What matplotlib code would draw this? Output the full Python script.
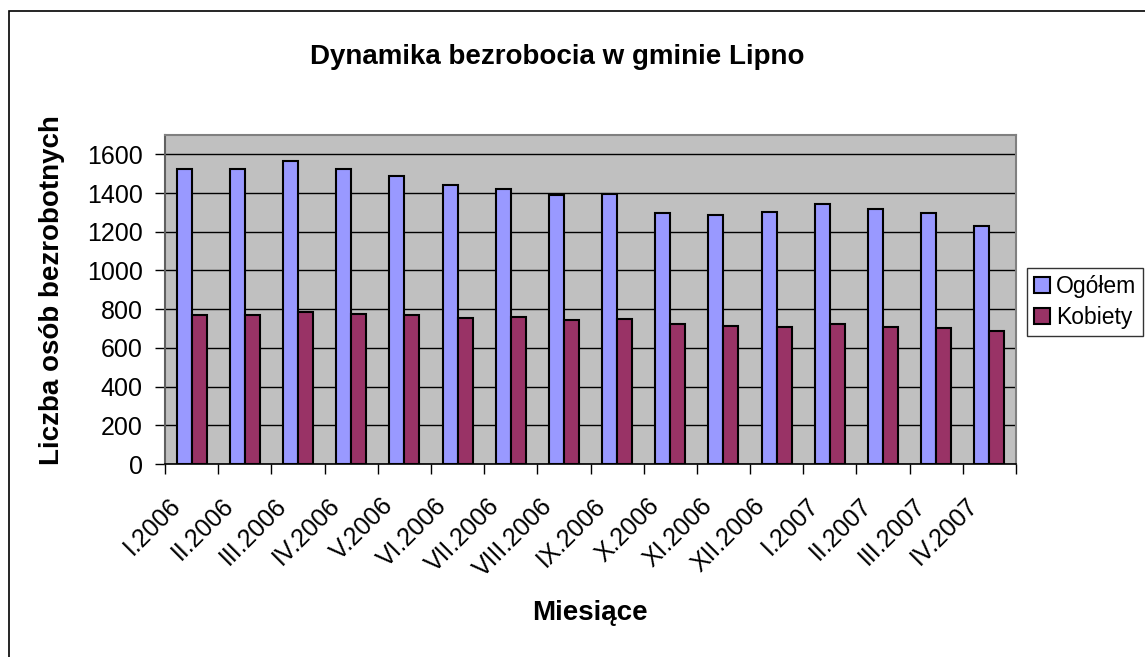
import matplotlib
matplotlib.use("Agg")
import matplotlib.pyplot as plt
from matplotlib.patches import Rectangle, Patch
from matplotlib.transforms import ScaledTranslation
import numpy as np

plt.rcParams['font.family'] = ['Liberation Sans', 'DejaVu Sans']

months = ["I.2006", "II.2006", "III.2006", "IV.2006", "V.2006", "VI.2006",
          "VII.2006", "VIII.2006", "IX.2006", "X.2006", "XI.2006", "XII.2006",
          "I.2007", "II.2007", "III.2007", "IV.2007"]
ogolem = [1525, 1525, 1566, 1525, 1488, 1442, 1423, 1389,
          1395, 1299, 1285, 1304, 1346, 1318, 1297, 1228]
kobiety = [768, 768, 785, 777, 768, 756, 761, 742,
           749, 723, 715, 710, 722, 706, 703, 687]
yticks = [0, 200, 400, 600, 800, 1000, 1200, 1400, 1600]

W, H = 1145, 657
fig = plt.figure(figsize=(W / 100, H / 100), dpi=100)

# chart area border
fig.patches.append(Rectangle((9 / W, -0.05), 1.2, 1 - 11 / H + 0.05,
                             transform=fig.transFigure, fill=False,
                             edgecolor='black', linewidth=1.2))

ax = fig.add_axes([165 / W, 1 - 464 / H, (1016 - 165) / W, (464 - 135) / H])
ax.set_facecolor('#C0C0C0')

x = np.arange(len(months))
bw = 0.282
ax.bar(x - bw / 2, ogolem, bw, color='#9999FF', edgecolor='black',
       linewidth=1.5, zorder=3, label='Ogółem')
ax.bar(x + bw / 2, kobiety, bw, color='#993366', edgecolor='black',
       linewidth=1.5, zorder=3, label='Kobiety')

ax.set_xlim(-0.5, len(months) - 0.5)
ax.set_ylim(0, 1700)
ax.set_yticks(yticks)
ax.tick_params(axis='y', labelsize=18, length=7, width=1, direction='out',
               pad=9)
ax.yaxis.grid(True, color='black', linewidth=1, zorder=1)
ax.set_axisbelow(True)

ax.set_xticks(x)
ax.set_xticklabels(months, rotation=45, ha='right', va='center',
                   rotation_mode='anchor', fontsize=18)
ax.tick_params(axis='x', which='major', length=0, pad=0)
offset = ScaledTranslation(-15 / 100, -38 / 100, fig.dpi_scale_trans)
for lab in ax.get_xticklabels():
    lab.set_transform(lab.get_transform() + offset)
ax.set_xticks(np.arange(-0.5, len(months)), minor=True)
ax.tick_params(axis='x', which='minor', length=7, width=1, direction='out')

for s in ['top', 'right']:
    ax.spines[s].set_color('#808080')
    ax.spines[s].set_linewidth(1.5)
ax.spines['left'].set_color('#606060')
ax.spines['left'].set_linewidth(1.5)
ax.spines['bottom'].set_color('black')
ax.spines['bottom'].set_linewidth(1.2)

fig.text(557 / W, 1 - 57 / H, "Dynamika bezrobocia w gminie Lipno",
         ha='center', va='center', fontsize=20, fontweight='bold')
fig.text(590 / W, 1 - 613 / H, "Miesiące", ha='center', va='center',
         fontsize=20, fontweight='bold')
fig.text(52 / W, 1 - 290 / H, "Liczba osób bezrobotnych", ha='center',
         va='center', rotation=90, fontsize=20, fontweight='bold')

handles = [Patch(facecolor='#9999FF', edgecolor='black', linewidth=1.5),
           Patch(facecolor='#993366', edgecolor='black', linewidth=1.5)]
leg = fig.legend(handles, ['Ogółem', 'Kobiety'], loc='upper left',
                 bbox_to_anchor=(1027 / W, 1 - 268 / H), fontsize=16.5,
                 frameon=True, fancybox=False, edgecolor='black',
                 handlelength=0.7, handleheight=0.7, handletextpad=0.25,
                 borderpad=0.3, labelspacing=0.35, borderaxespad=0)
leg.get_frame().set_linewidth(1)

fig.savefig("out.png", dpi=100)
